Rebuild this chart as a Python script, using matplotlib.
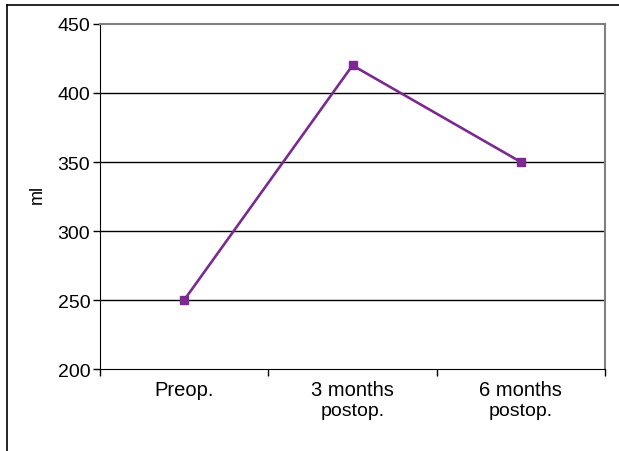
import matplotlib.pyplot as plt
from matplotlib.lines import Line2D
import matplotlib.transforms as mtransforms

plt.rcParams['font.family'] = ['Liberation Sans', 'DejaVu Sans']

categories = ['Preop.', '3 months', '6 months']
subtitles = ['', 'postop.', 'postop.']
volume_ml = [250, 420, 350]
y_ticks = [200, 250, 300, 350, 400, 450]

fig = plt.figure(figsize=(6.19, 4.52), dpi=100)
ax = fig.add_axes([0.1616, 0.1814, 0.8158, 0.7633])

x = list(range(len(categories)))
ax.plot(x, volume_ml, color='#7B2A90', linewidth=1.9, marker='s',
        markersize=6, zorder=3)

ax.set_xlim(-0.5, len(categories) - 0.5)
ax.set_ylim(200, 450)
ax.set_yticks(y_ticks)
ax.set_yticklabels([str(v) for v in y_ticks], fontsize=14)
ax.set_xticks([i - 0.5 for i in range(len(categories) + 1)])
ax.set_xticklabels([])
ax.tick_params(axis='x', direction='out', length=5, width=1)
ax.tick_params(axis='y', direction='out', length=5, width=1, pad=2)

for v in y_ticks[1:-1]:
    ax.axhline(v, color='black', linewidth=1, zorder=1)

ax.spines['top'].set_color('#808080')
ax.spines['right'].set_color('#808080')
ax.spines['top'].set_linewidth(1.5)
ax.spines['right'].set_linewidth(1.5)

trans = mtransforms.blended_transform_factory(ax.transData, fig.transFigure)
for i, (c, s) in enumerate(zip(categories, subtitles)):
    ax.text(i, 1 - 396 / 452, c, transform=trans, ha='center', va='baseline',
            fontsize=14.5)
    if s:
        ax.text(i, 1 - 416 / 452, s, transform=trans, ha='center',
                va='baseline', fontsize=14)

ax.set_ylabel('ml', fontsize=13)
ax.yaxis.set_label_coords(-0.108, 0.51)

fig.add_artist(Line2D([7 / 619, 7 / 619], [0, 1 - 6 / 452], color='black',
                      linewidth=1.2, transform=fig.transFigure))
fig.add_artist(Line2D([7 / 619, 1], [1 - 6 / 452, 1 - 6 / 452], color='black',
                      linewidth=1.2, transform=fig.transFigure))

fig.savefig('out.png', dpi=100)
